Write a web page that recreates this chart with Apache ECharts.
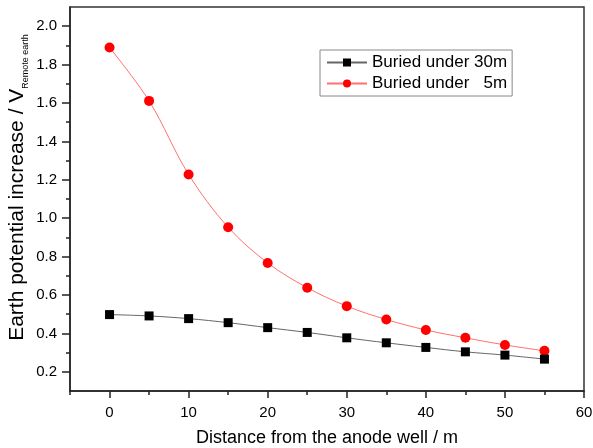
<!DOCTYPE html>
<html>
<head>
<meta charset="utf-8">
<script src="https://cdn.jsdelivr.net/npm/echarts@6/dist/echarts.min.js"></script>
<style>
html,body{margin:0;padding:0;background:#fff;}
#chart{width:593px;height:448px;}
</style>
</head>
<body>
<div id="chart"></div>
<script>
const distances = [0, 5, 10, 15, 20, 25, 30, 35, 40, 45, 50, 55];
const buried30 = [0.498, 0.491, 0.477, 0.456, 0.430, 0.405, 0.377, 0.351, 0.327, 0.304, 0.287, 0.266];
const buried5 = [1.889, 1.611, 1.228, 0.953, 0.767, 0.638, 0.542, 0.472, 0.418, 0.377, 0.340, 0.309];
const seriesNames = ['Buried under 30m', 'Buried under   5m'];
const xMajorTicks = [0, 10, 20, 30, 40, 50, 60];
const xMinorTicks = [-5, 5, 15, 25, 35, 45, 55];
const yMajorTicks = [0.2, 0.4, 0.6, 0.8, 1.0, 1.2, 1.4, 1.6, 1.8, 2.0];
const yMinorTicks = [0.3, 0.5, 0.7, 0.9, 1.1, 1.3, 1.5, 1.7, 1.9];
const xTitle = 'Distance from the anode well / m';
const yTitleMain = 'Earth potential increase / V';
const yTitleSub = 'Remote earth';

const FONT = "'Liberation Sans', Arial, sans-serif";
const chart = echarts.init(document.getElementById('chart'), null, {renderer: 'canvas'});

const pair = (ys) => distances.map((x, i) => [x, ys[i]]);
const axisLineStyle = {color: '#222', width: 1.5};

chart.setOption({
  animation: false,
  backgroundColor: '#fff',
  textStyle: {fontFamily: FONT},
  grid: {left: 70, right: 9, top: 7, bottom: 57, show: true, borderColor: '#333', borderWidth: 1.5,
    containLabel: false, outerBoundsMode: 'none'},
  legend: {
    orient: 'vertical', left: 320, top: 50,
    itemWidth: 40, itemHeight: 10, itemGap: 4,
    padding: [4, 5, 4, 6],
    borderColor: '#888', borderWidth: 1, borderRadius: 0,
    textStyle: {fontSize: 17, color: '#000', fontFamily: FONT},
    data: seriesNames
  },
  xAxis: [{
    type: 'value', min: -5, max: 60, position: 'bottom',
    splitLine: {show: false},
    axisLine: {show: true, onZero: false, lineStyle: axisLineStyle},
    axisTick: {show: true, customValues: xMajorTicks, length: 7, lineStyle: {color: '#222', width: 1.5}},
    axisLabel: {customValues: xMajorTicks, fontSize: 15, color: '#000', margin: 14, fontFamily: FONT},
    name: xTitle, nameLocation: 'middle', nameGap: 38, nameMoveOverlap: false,
    nameTextStyle: {fontSize: 18, color: '#000', fontFamily: FONT}
  }, {
    type: 'value', min: -5, max: 60, position: 'bottom',
    splitLine: {show: false},
    axisLine: {show: false, onZero: false},
    axisTick: {show: true, customValues: xMinorTicks, length: 4, lineStyle: {color: '#222', width: 1.5}},
    axisLabel: {show: false}
  }],
  yAxis: [{
    type: 'value', min: 0.1, max: 2.1, position: 'left',
    splitLine: {show: false},
    axisLine: {show: true, onZero: false, lineStyle: axisLineStyle},
    axisTick: {show: true, customValues: yMajorTicks, length: 8, lineStyle: {color: '#222', width: 1.5}},
    axisLabel: {customValues: yMajorTicks, fontSize: 15, color: '#000', margin: 13, fontFamily: FONT,
      formatter: (v) => v.toFixed(1)},
    name: '{a|' + yTitleMain + '}{b|' + yTitleSub + '}',
    nameLocation: 'middle', nameGap: 40, nameRotate: 90, nameMoveOverlap: false,
    nameTextStyle: {
      color: '#000', fontFamily: FONT, padding: [0, 0, 0, 23],
      rich: {
        a: {fontSize: 21, lineHeight: 25, color: '#000', fontFamily: FONT},
        b: {fontSize: 9, lineHeight: 2, verticalAlign: 'bottom', color: '#000', fontFamily: FONT}
      }
    }
  }, {
    type: 'value', min: 0.1, max: 2.1, position: 'left',
    splitLine: {show: false},
    axisLine: {show: false, onZero: false},
    axisTick: {show: true, customValues: yMinorTicks, length: 4, lineStyle: {color: '#222', width: 1.5}},
    axisLabel: {show: false}
  }],
  series: [{
    name: seriesNames[0], type: 'line', xAxisIndex: 0, yAxisIndex: 0,
    data: pair(buried30), smooth: 0.35,
    symbol: 'rect', symbolSize: 9,
    itemStyle: {color: '#000'},
    lineStyle: {color: '#666', width: 1},
    z: 3
  }, {
    name: seriesNames[1], type: 'line', xAxisIndex: 0, yAxisIndex: 0,
    data: pair(buried5), smooth: 0.35,
    symbol: 'circle', symbolSize: 10,
    itemStyle: {color: '#ff0000'},
    lineStyle: {color: '#ff7070', width: 1},
    z: 2
  }]
});
</script>
</body>
</html>
